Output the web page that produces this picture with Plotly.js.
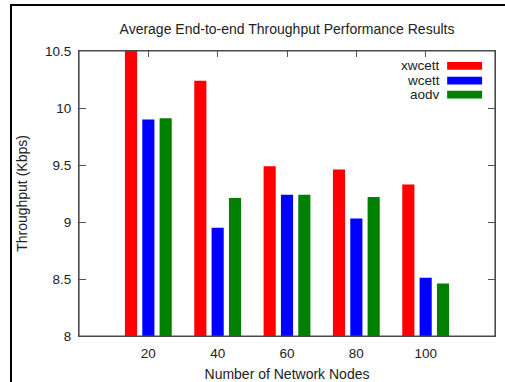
<!DOCTYPE html>
<html>
<head>
<meta charset="utf-8">
<script src="https://cdn.plot.ly/plotly-3.0.1.min.js"></script>
<style>
  html, body { margin: 0; padding: 0; background: #fff; }
  #chart { width: 505px; height: 382px; }
</style>
</head>
<body>
<div id="chart"></div>
<script>
// Network sizes on the x axis
const nodes = [20, 40, 60, 80, 100];
// Average end-to-end throughput (Kbps) for each routing metric
const xwcett = [10.5, 10.24, 9.49, 9.46, 9.33];
const wcett  = [9.90, 8.95, 9.24, 9.03, 8.51];
const aodv   = [9.91, 9.21, 9.24, 9.22, 8.46];
const seriesNames = ['xwcett', 'wcett', 'aodv'];
const seriesColors = ['#ff0000', '#0000ff', '#008000'];
const yTicks = [8, 8.5, 9, 9.5, 10, 10.5];
const yTickText = ['8', '8.5', '9', '9.5', '10', '10.5'];

const barWidth = 3.5;
const barOffsets = [-6.75, -1.75, 3.25];
const seriesValues = [xwcett, wcett, aodv];

const traces = seriesValues.map((vals, i) => ({
  type: 'bar',
  name: seriesNames[i],
  x: nodes,
  y: vals,
  width: barWidth,
  offset: barOffsets[i],
  marker: { color: seriesColors[i], line: { width: 0 } },
  showlegend: false
}));

const fontFamily = 'Liberation Sans, Arial, sans-serif';
const titleFont = { family: fontFamily, size: 14, color: '#222' };
const tickFont = { family: fontFamily, size: 13.5, color: '#222' };

// Key in the upper right: label text, then a colour swatch
const keyRowsY = [0.948, 0.896, 0.847];
const annotations = seriesNames.map((name, i) => ({
  xref: 'paper', yref: 'paper',
  x: 0.873, y: keyRowsY[i],
  xanchor: 'right', yanchor: 'middle',
  text: name, showarrow: false,
  font: tickFont
}));
const shapes = seriesNames.map((name, i) => ({
  type: 'rect', xref: 'paper', yref: 'paper',
  x0: 0.885, x1: 0.969,
  y0: keyRowsY[i] - 0.0135, y1: keyRowsY[i] + 0.0135,
  fillcolor: seriesColors[i], line: { width: 0 }, layer: 'above'
}));
// plot frame drawn over the bar bases
shapes.push({
  type: 'rect', xref: 'paper', yref: 'paper',
  x0: 0, x1: 1, y0: 0, y1: 1,
  line: { color: '#4a4a4a', width: 1.2 }, fillcolor: 'rgba(0,0,0,0)', layer: 'above'
});
// outer page border along the left and top
shapes.push({
  type: 'path', xref: 'paper', yref: 'paper',
  path: 'M -0.1635 -1 L -0.1635 1.1614 L 2 1.1614',
  line: { color: '#000', width: 2 }, layer: 'above'
});

const layout = {
  width: 505,
  height: 382,
  margin: { l: 79, r: 10, t: 51, b: 46 },
  paper_bgcolor: '#fff',
  plot_bgcolor: '#fff',
  font: tickFont,
  title: {
    text: 'Average End-to-end Throughput Performance Results',
    font: titleFont,
    x: 0.5, xref: 'paper', xanchor: 'center',
    y: 0.924, yref: 'container', yanchor: 'middle'
  },
  xaxis: {
    range: [0, 120],
    tickvals: nodes,
    ticktext: nodes.map(String),
    ticks: 'inside', ticklen: 6, tickcolor: '#555', tickwidth: 1,
    showline: true, linecolor: '#4a4a4a', linewidth: 1,
    mirror: 'ticks',
    showgrid: false, zeroline: false,
    layer: 'below traces',
    ticklabelstandoff: 5,
    tickfont: tickFont,
    title: { text: 'Number of Network Nodes', font: titleFont, standoff: 10 }
  },
  yaxis: {
    range: [8, 10.5],
    tickvals: yTicks,
    ticktext: yTickText,
    ticks: 'inside', ticklen: 7, tickcolor: '#555', tickwidth: 1,
    showline: true, linecolor: '#4a4a4a', linewidth: 1,
    mirror: 'ticks',
    showgrid: false, zeroline: false,
    layer: 'below traces',
    ticklabelstandoff: 4,
    tickfont: tickFont,
    title: { text: 'Throughput (Kbps)', font: titleFont, standoff: 14 }
  },
  barmode: 'overlay',
  annotations: annotations,
  shapes: shapes
};

Plotly.newPlot('chart', traces, layout, { displayModeBar: false, staticPlot: true });
</script>
</body>
</html>
